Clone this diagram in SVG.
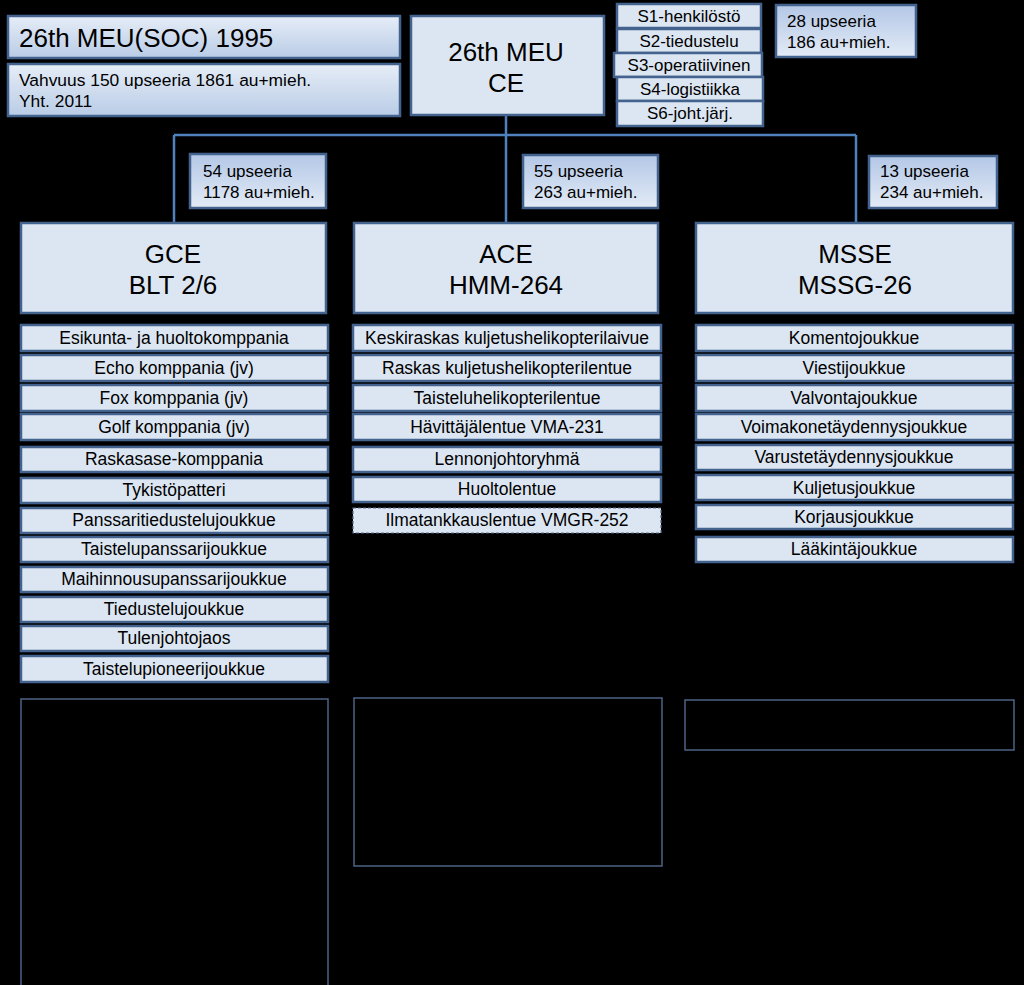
<svg xmlns="http://www.w3.org/2000/svg" width="1024" height="985" viewBox="0 0 1024 985">
<defs>
<linearGradient id="gA" x1="0" y1="0" x2="0" y2="1">
<stop offset="0" stop-color="#e6edf7"/>
<stop offset="1" stop-color="#b9cce6"/>
</linearGradient>
<linearGradient id="gB" x1="0" y1="0" x2="0" y2="1">
<stop offset="0" stop-color="#b3c7e6"/>
<stop offset="1" stop-color="#e3ebf6"/>
</linearGradient>
<style>
text{font-family:"Liberation Sans",Arial,sans-serif;fill:#000}
.main{fill:#dce6f2;stroke:#43638e;stroke-width:2.5}
.item{fill:#dce6f2;stroke:#43638e;stroke-width:2.5}
.dash{fill:#dce6f2;stroke:#5a6f8c;stroke-width:1.2;stroke-dasharray:3 2}
.grad{fill:url(#gA);stroke:#43638e;stroke-width:2.5}
.cnt{fill:url(#gB);stroke:#43638e;stroke-width:2.5}
.empty{fill:none;stroke:#4d6385;stroke-width:1.5}
.it{font-size:17.5px;text-anchor:middle}
.st{font-size:17px;text-anchor:middle}
.big{font-size:26px;text-anchor:middle}
.c{font-size:17px}
.conn{stroke:#4f81bd;stroke-width:2.5;fill:none}
</style>
</defs>
<rect width="1024" height="985" fill="#000"/>

<g id="connectors">
<path class="conn" d="M506 115 V135 M174 135 H856 M174 135 V223 M506 135 V223 M856 135 V223"/>
</g>

<g id="title">
<rect class="grad" x="8" y="16" width="392" height="42"/>
<text x="19" y="47" font-size="26">26th MEU(SOC) 1995</text>
</g>
<g id="strength">
<rect class="grad" x="8" y="64" width="392" height="52"/>
<text x="19" y="86" font-size="17.4">Vahvuus 150 upseeria 1861 au+mieh.</text>
<text x="19" y="107" font-size="17.4">Yht. 2011</text>
</g>

<g id="ce">
<rect class="main" x="411" y="16" width="193" height="99"/>
<text class="big" x="506" y="61" font-size="27">26th MEU</text>
<text class="big" x="506" y="92" font-size="27">CE</text>
</g>

<g id="staff">
<rect class="item" x="617" y="4" width="144" height="24"/>
<text class="st" x="689" y="22">S1-henkilöstö</text>
<rect class="item" x="617" y="29" width="144" height="24"/>
<text class="st" x="689" y="47">S2-tiedustelu</text>
<rect class="item" x="614" y="53" width="148" height="24"/>
<text class="st" x="689" y="71">S3-operatiivinen</text>
<rect class="item" x="617" y="77" width="146" height="24"/>
<text class="st" x="690" y="95">S4-logistiikka</text>
<rect class="item" x="617" y="101" width="146" height="25"/>
<text class="st" x="690" y="119">S6-joht.järj.</text>
</g>

<g id="ce-count">
<rect class="cnt" x="776" y="5" width="140" height="52"/>
<text class="c" x="787" y="27">28 upseeria</text>
<text class="c" x="787" y="48">186 au+mieh.</text>
</g>

<g id="gce-count">
<rect class="cnt" x="190" y="154" width="136" height="54"/>
<text class="c" x="203" y="177">54 upseeria</text>
<text class="c" x="203" y="198">1178 au+mieh.</text>
</g>
<g id="ace-count">
<rect class="cnt" x="523" y="155" width="135" height="53"/>
<text class="c" x="534" y="177">55 upseeria</text>
<text class="c" x="534" y="198">263 au+mieh.</text>
</g>
<g id="msse-count">
<rect class="cnt" x="869" y="156" width="128" height="52"/>
<text class="c" x="880" y="177">13 upseeria</text>
<text class="c" x="880" y="198">234 au+mieh.</text>
</g>

<g id="gce">
<rect class="main" x="21" y="223" width="305" height="90"/>
<text class="big" x="173" y="263">GCE</text>
<text class="big" x="173" y="294">BLT 2/6</text>
</g>
<g id="ace">
<rect class="main" x="354" y="223" width="304" height="90"/>
<text class="big" x="506" y="263">ACE</text>
<text class="big" x="506" y="294">HMM-264</text>
</g>
<g id="msse">
<rect class="main" x="696" y="223" width="317" height="90"/>
<text class="big" x="855" y="263">MSSE</text>
<text class="big" x="855" y="294">MSSG-26</text>
</g>

<g id="gce-units">
<rect class="item" x="21" y="325" width="307" height="26"/><text class="it" x="174" y="344">Esikunta- ja huoltokomppania</text>
<rect class="item" x="21" y="355" width="307" height="26"/><text class="it" x="174" y="374">Echo komppania (jv)</text>
<rect class="item" x="21" y="385" width="307" height="26"/><text class="it" x="174" y="404">Fox komppania (jv)</text>
<rect class="item" x="21" y="414" width="307" height="26"/><text class="it" x="174" y="433">Golf komppania (jv)</text>
<rect class="item" x="21" y="447" width="307" height="25"/><text class="it" x="174" y="465">Raskasase-komppania</text>
<rect class="item" x="21" y="478" width="307" height="25"/><text class="it" x="174" y="496">Tykistöpatteri</text>
<rect class="item" x="21" y="508" width="307" height="25"/><text class="it" x="174" y="526">Panssaritiedustelujoukkue</text>
<rect class="item" x="21" y="537" width="307" height="25"/><text class="it" x="174" y="555">Taistelupanssarijoukkue</text>
<rect class="item" x="21" y="567" width="307" height="25"/><text class="it" x="174" y="585">Maihinnousupanssarijoukkue</text>
<rect class="item" x="21" y="597" width="307" height="25"/><text class="it" x="174" y="615">Tiedustelujoukkue</text>
<rect class="item" x="21" y="626" width="307" height="25"/><text class="it" x="174" y="644">Tulenjohtojaos</text>
<rect class="item" x="21" y="656" width="307" height="26"/><text class="it" x="174" y="675">Taistelupioneerijoukkue</text>
</g>

<g id="ace-units">
<rect class="item" x="353" y="325" width="308" height="26"/><text class="it" x="507" y="344">Keskiraskas kuljetushelikopterilaivue</text>
<rect class="item" x="353" y="355" width="308" height="26"/><text class="it" x="507" y="374">Raskas kuljetushelikopterilentue</text>
<rect class="item" x="353" y="385" width="308" height="26"/><text class="it" x="507" y="404">Taisteluhelikopterilentue</text>
<rect class="item" x="353" y="414" width="308" height="26"/><text class="it" x="507" y="433">Hävittäjälentue VMA-231</text>
<rect class="item" x="353" y="447" width="308" height="25"/><text class="it" x="507" y="465">Lennonjohtoryhmä</text>
<rect class="item" x="353" y="477" width="308" height="25"/><text class="it" x="507" y="495">Huoltolentue</text>
<rect class="dash" x="353" y="508" width="308" height="25"/><text class="it" x="507" y="526">Ilmatankkauslentue VMGR-252</text>
</g>

<g id="msse-units">
<rect class="item" x="696" y="325" width="317" height="26"/><text class="it" x="854" y="344">Komentojoukkue</text>
<rect class="item" x="696" y="355" width="317" height="26"/><text class="it" x="854" y="374">Viestijoukkue</text>
<rect class="item" x="696" y="385" width="317" height="26"/><text class="it" x="854" y="404">Valvontajoukkue</text>
<rect class="item" x="696" y="414" width="317" height="26"/><text class="it" x="854" y="433">Voimakonetäydennysjoukkue</text>
<rect class="item" x="696" y="445" width="317" height="25"/><text class="it" x="854" y="463">Varustetäydennysjoukkue</text>
<rect class="item" x="696" y="475" width="317" height="25"/><text class="it" x="854" y="494">Kuljetusjoukkue</text>
<rect class="item" x="696" y="505" width="317" height="24"/><text class="it" x="854" y="523">Korjausjoukkue</text>
<rect class="item" x="696" y="537" width="317" height="25"/><text class="it" x="854" y="555">Lääkintäjoukkue</text>
</g>

<g id="empty-boxes">
<rect class="empty" x="21" y="699" width="307" height="300"/>
<rect class="empty" x="354" y="698" width="308" height="168"/>
<rect class="empty" x="685" y="700" width="329" height="50"/>
</g>
</svg>
